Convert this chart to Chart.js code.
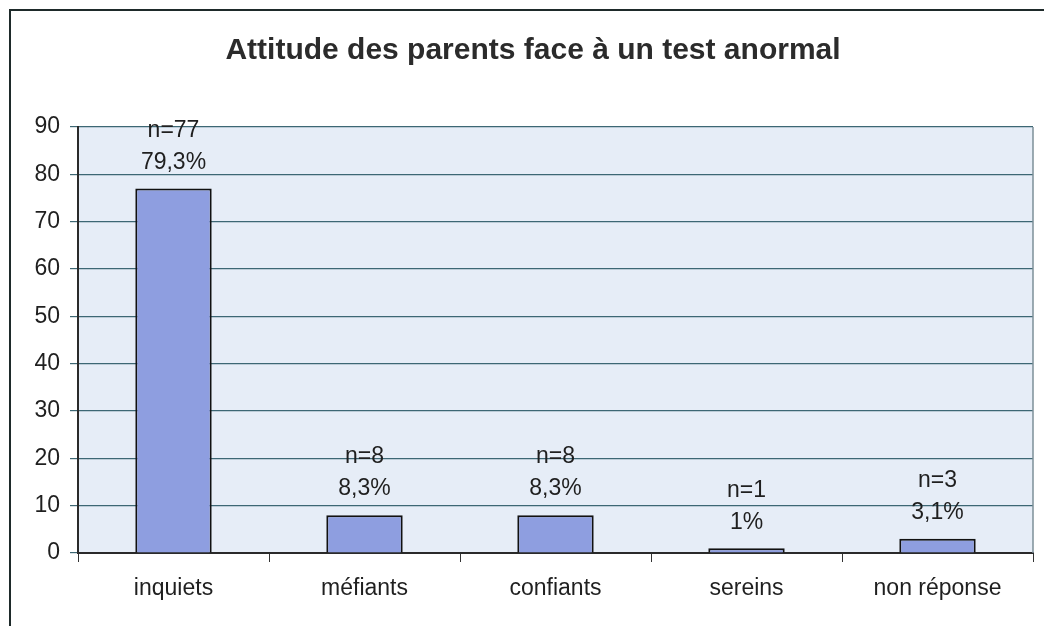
<!DOCTYPE html>
<html>
<head>
<meta charset="utf-8">
<script src="https://cdn.jsdelivr.net/npm/chart.js@4/dist/chart.umd.min.js"></script>
<style>
  html, body { margin: 0; padding: 0; background: #fff; }
  #wrap { width: 1044px; height: 626px; position: relative; }
</style>
</head>
<body>
<div id="wrap"><canvas id="chart"></canvas></div>
<script>
var categories = ["inquiets", "méfiants", "confiants", "sereins", "non réponse"]
var counts = [77, 8, 8, 1, 3]
var percents = ["79,3%", "8,3%", "8,3%", "1%", "3,1%"]
var yTicks = [0, 10, 20, 30, 40, 50, 60, 70, 80, 90]
var chartTitle = "Attitude des parents face à un test anormal"

var textColour = "#1f1f1f"
var gridColour = "#3d6774"
var fontFamily = "'Liberation Sans', Arial, sans-serif"

// light blue plot background, frame on the right, outer sheet border, title
var plotFrame = {
  id: "plotFrame",
  beforeDraw: function(chart) {
    var ctx = chart.ctx
    var a = chart.chartArea
    ctx.save()
    ctx.fillStyle = "#e6edf7"
    ctx.fillRect(a.left, a.top, a.right - a.left, a.bottom - a.top)
    ctx.strokeStyle = "#1e2a2a"
    ctx.lineWidth = 2
    ctx.beginPath()
    ctx.moveTo(10, 626)
    ctx.lineTo(10, 10)
    ctx.lineTo(1044, 10)
    ctx.stroke()

    ctx.fillStyle = "#2b2b2b"
    ctx.font = "bold 30px " + fontFamily
    ctx.textAlign = "center"
    ctx.textBaseline = "middle"
    ctx.fillText(chartTitle, 533, 51)
    ctx.restore()
  },
  afterDatasetsDraw: function(chart) {
    var ctx = chart.ctx
    var a = chart.chartArea
    ctx.save()
    ctx.strokeStyle = "#7d8f98"
    ctx.lineWidth = 1.5
    ctx.beginPath()
    ctx.moveTo(a.right, a.top)
    ctx.lineTo(a.right, a.bottom)
    ctx.stroke()
    ctx.restore()
  }
}

// "n=.." and percentage written above each bar
var barLabels = {
  id: "barLabels",
  afterDatasetsDraw: function(chart) {
    var ctx = chart.ctx
    var meta = chart.getDatasetMeta(0)
    ctx.save()
    ctx.fillStyle = textColour
    ctx.font = "23px " + fontFamily
    ctx.textAlign = "center"
    ctx.textBaseline = "middle"
    meta.data.forEach(function(bar, i) {
      ctx.fillText("n=" + counts[i], bar.x, bar.y - 58)
      ctx.fillText(percents[i], bar.x, bar.y - 26)
    })
    ctx.restore()
  }
}

new Chart(document.getElementById("chart"), {
  type: "bar",
  data: {
    labels: categories,
    datasets: [{
      data: counts,
      backgroundColor: "#8e9ee0",
      borderColor: "#111",
      borderWidth: 2,
      barPercentage: 0.8,
      categoryPercentage: 0.5
    }]
  },
  options: {
    responsive: true,
    maintainAspectRatio: false,
    animation: false,
    layout: { padding: { left: 0, right: 11, top: 127, bottom: 0 } },
    plugins: {
      legend: { display: false },
      tooltip: { enabled: false },
      title: { display: false }
    },
    scales: {
      x: {
        grid: {
          display: true,
          drawOnChartArea: false,
          offset: true,
          tickLength: 9,
          color: "#333"
        },
        border: { color: "#2a2a2a", width: 2 },
        ticks: {
          color: textColour,
          padding: 13,
          font: { family: fontFamily, size: 23 }
        },
        afterFit: function(scale) { scale.height = 73 }
      },
      y: {
        min: 0,
        max: 90,
        afterBuildTicks: function(scale) {
          scale.ticks = yTicks.map(function(v) { return { value: v } })
        },
        grid: {
          color: gridColour,
          lineWidth: 1.2,
          tickLength: 8
        },
        border: { color: "#2a2a2a", width: 2 },
        ticks: {
          color: textColour,
          padding: 10,
          font: { family: fontFamily, size: 23 }
        },
        afterFit: function(scale) { scale.width = 78 }
      }
    }
  },
  plugins: [plotFrame, barLabels]
})
</script>
</body>
</html>
